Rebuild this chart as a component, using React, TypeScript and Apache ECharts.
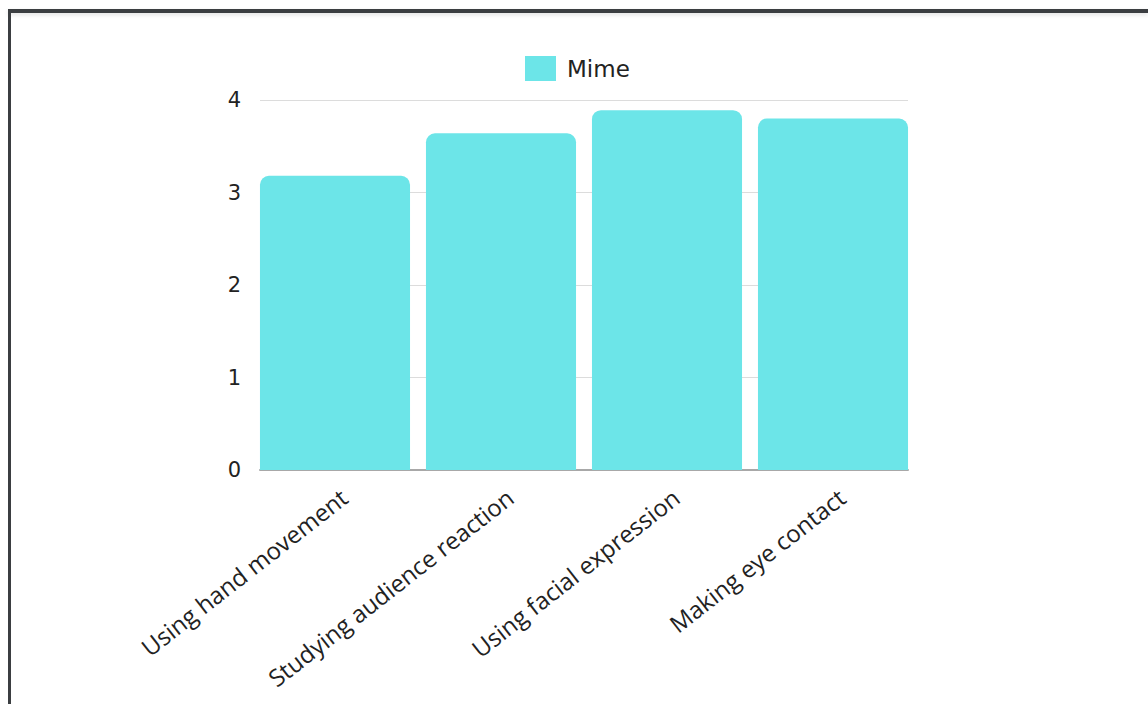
import React, { useEffect, useRef } from "react";
import * as echarts from "echarts";

const categories = [
  "Using hand movement",
  "Studying audience reaction",
  "Using facial expression",
  "Making eye contact",
];
const seriesName = "Mime";
const mimeValues = [3.18, 3.64, 3.89, 3.8];
const yTicks = [0, 1, 2, 3, 4];

export default function App() {
  const ref = useRef<HTMLDivElement>(null);
  useEffect(() => {
    if (!ref.current) return;
    const chart = echarts.init(ref.current, undefined, { renderer: "svg" });
    const yMax = yTicks[yTicks.length - 1];
    chart.setOption({
      animation: false,
      legend: {
        data: [seriesName],
        left: 525,
        top: 56,
        padding: 0,
        icon: "rect",
        itemWidth: 31,
        itemHeight: 25,
        itemGap: 10,
        textStyle: { fontFamily: "DejaVu Sans", fontSize: 23, color: "#222", padding: [0, 0, 0, 6] },
      },
      grid: [
        { left: 260, right: 240, top: 100, bottom: 234 },
        { left: 252, right: 232, top: 100, bottom: 234 },
        { left: 261, right: 223, top: 100, bottom: 234 },
      ],
      xAxis: [
        {
          type: "category",
          gridIndex: 0,
          data: categories,
          axisTick: { show: false },
          axisLabel: { show: false },
          axisLine: { lineStyle: { color: "#a8a8a8", width: 2 } },
        },
        {
          type: "category",
          gridIndex: 1,
          data: categories,
          axisTick: { show: false },
          axisLine: { show: false },
          axisLabel: { show: false },
        },
        {
          type: "category",
          gridIndex: 2,
          data: categories,
          axisTick: { show: false },
          axisLine: { show: false },
          axisLabel: {
            rotate: 38,
            interval: 0,
            margin: 24,
            fontFamily: "Open Sans",
            fontSize: 24,
            color: "#222",
          },
        },
      ],
      yAxis: [
        {
          type: "value",
          gridIndex: 0,
          min: 0,
          max: yMax,
          interval: 1,
          axisLabel: {
            margin: 19,
            fontFamily: "DejaVu Sans",
            fontSize: 21,
            color: "#222",
          },
          splitLine: { lineStyle: { color: "#dcdcdc", width: 1 } },
        },
        {
          type: "value",
          gridIndex: 1,
          min: 0,
          max: yMax,
          interval: 1,
          axisLabel: { show: false },
          splitLine: { show: false },
        },
        {
          type: "value",
          gridIndex: 2,
          min: 0,
          max: yMax,
          interval: 1,
          axisLabel: { show: false },
          splitLine: { show: false },
        },
      ],
      series: [
        {
          name: seriesName,
          type: "bar",
          xAxisIndex: 1,
          yAxisIndex: 1,
          data: mimeValues,
          barCategoryGap: "9.6%",
          itemStyle: { color: "#6ce5e8", borderRadius: [9, 9, 0, 0] },
        },
      ],
    });
    return () => chart.dispose();
  }, []);
  return (
    <div style={{ position: "fixed", left: 0, top: 0, width: 1148, height: 704, background: "#fff", overflow: "hidden" }}>
      <div ref={ref} style={{ position: "absolute", left: 0, top: 0, width: 1148, height: 704 }} />
      <div style={{ position: "absolute", left: 8, top: 9, width: 1140, height: 4, background: "#3b3e41", boxShadow: "0 2px 4px rgba(0,0,0,0.12)" }} />
      <div style={{ position: "absolute", left: 8, top: 9, width: 3, height: 695, background: "#3b3e41" }} />
    </div>
  );
}
